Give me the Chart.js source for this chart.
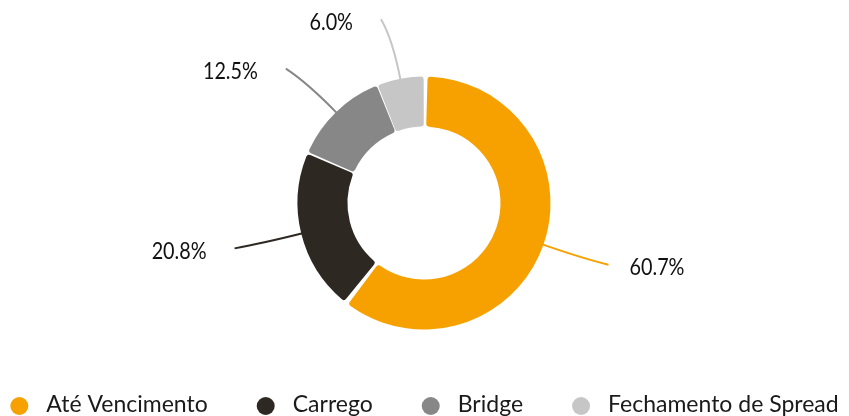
<!DOCTYPE html>
<html>
<head>
<meta charset="utf-8">
<script src="https://cdn.jsdelivr.net/npm/chart.js@4/dist/chart.umd.min.js"></script>
<style>
    html, body { margin: 0; padding: 0; background: #ffffff; }
    #wrap { width: 849px; height: 416px; position: relative; }
</style>
</head>
<body>
<div id="wrap"><canvas id="mixChart"></canvas></div>
<script>
const categories = ["Até Vencimento", "Carrego", "Bridge", "Fechamento de Spread"];
const shares = [60.7, 20.8, 12.5, 6.0];
const sliceColors = ["#F6A100", "#2D2822", "#878787", "#C6C6C6"];

const LEGEND_FONT = "23px Lato, 'Open Sans', sans-serif";
const LABEL_FONT = "23px Lato, 'Open Sans', sans-serif";

// leader lines + percentage labels
const leaderLabels = {
    id: "leaderLabels",
    afterDatasetsDraw(chart) {
        const ctx = chart.ctx;
        const arcs = chart.getDatasetMeta(0).data;
        ctx.save();
        arcs.forEach((arc, i) => {
            const p = arc.getProps(["x", "y", "startAngle", "endAngle", "outerRadius"], true);
            const mid = (p.startAngle + p.endAngle) / 2;
            const cos = Math.cos(mid), sin = Math.sin(mid);
            const side = cos >= 0 ? 1 : -1;

            const r0 = p.outerRadius - 2;
            const rc = p.outerRadius + 42;
            const r1 = p.outerRadius + 62;

            const sx = p.x + r0 * cos, sy = p.y + r0 * sin;
            const cx = p.x + rc * cos, cy = p.y + rc * sin;
            const ex = p.x + r1 * cos + 8 * side, ey = p.y + r1 * sin;

            ctx.beginPath();
            ctx.moveTo(sx, sy);
            ctx.quadraticCurveTo(cx, cy, ex, ey);
            ctx.strokeStyle = sliceColors[i];
            ctx.lineWidth = 2;
            ctx.stroke();

            // labels are a narrow face in the original, squeeze Lato a little
            const gap = side > 0 ? 21 : 28;
            const squeeze = 0.86;
            ctx.save();
            ctx.translate(ex + side * gap, ey + 3);
            ctx.scale(squeeze, 1);
            ctx.fillStyle = "#111111";
            ctx.font = LABEL_FONT;
            ctx.textBaseline = "middle";
            ctx.textAlign = side > 0 ? "left" : "right";
            ctx.fillText(shares[i].toFixed(1) + "%", 0, 0);
            ctx.restore();
        });
        ctx.restore();
    }
};

// bottom legend with round markers
const bottomLegend = {
    id: "bottomLegend",
    afterDraw(chart) {
        const ctx = chart.ctx;
        ctx.save();
        ctx.font = LEGEND_FONT;
        const markerR = 9;
        const textGap = 36;
        const itemGap = 49;
        const widths = categories.map(c => ctx.measureText(c).width);
        const total = widths.reduce((a, b) => a + b, 0) + categories.length * textGap + (categories.length - 1) * itemGap;
        let x = (chart.width - total) / 2;
        const y = 406;
        categories.forEach((c, i) => {
            ctx.beginPath();
            ctx.arc(x + markerR, y, markerR, 0, Math.PI * 2);
            ctx.fillStyle = sliceColors[i];
            ctx.fill();
            ctx.fillStyle = "#1a1a1a";
            ctx.textAlign = "left";
            ctx.textBaseline = "alphabetic";
            ctx.fillText(c, x + textGap, 412);
            x += textGap + widths[i] + itemGap;
        });
        ctx.restore();
    }
};

new Chart(document.getElementById("mixChart"), {
    type: "doughnut",
    data: {
        labels: categories,
        datasets: [{
            data: shares,
            backgroundColor: sliceColors,
            borderWidth: 0,
            borderRadius: 3,
            spacing: 3
        }]
    },
    options: {
        responsive: true,
        maintainAspectRatio: false,
        animation: false,
        radius: 125,
        cutout: "60%",
        layout: { padding: { top: 20, bottom: 30, left: 0, right: 1 } },
        plugins: {
            legend: { display: false },
            tooltip: { enabled: false }
        }
    },
    plugins: [leaderLabels, bottomLegend]
});
</script>
</body>
</html>
